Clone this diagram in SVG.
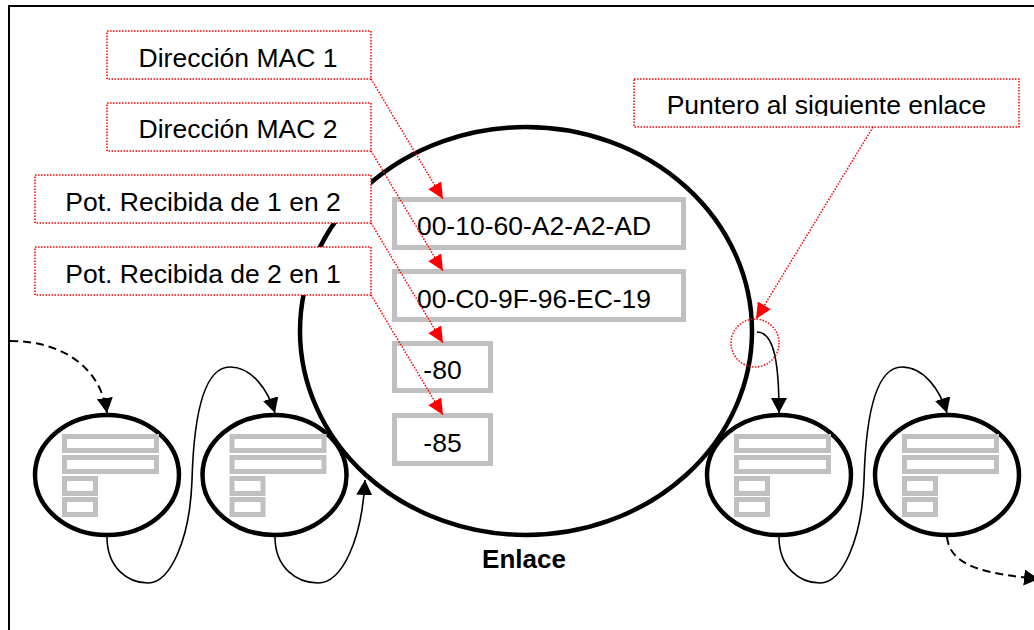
<svg xmlns="http://www.w3.org/2000/svg" xmlns:xlink="http://www.w3.org/1999/xlink" width="1034" height="630" viewBox="0 0 1034 630">
  <style>
    .txt { font-family: "Liberation Sans", Arial, sans-serif; font-size: 26.5px; fill: #000; }
    .bold { font-weight: bold; font-size: 26px; }
    .frame { fill: none; stroke: #000; stroke-width: 2; }
    .node { fill: none; stroke: #000; stroke-width: 4.5; }
    .field { fill: #fff; stroke: #c0c0c0; stroke-width: 5; }
    .label { fill: #fff; stroke: #ff0000; stroke-width: 1.5; stroke-dasharray: 1.5 1.5; }
    .pointer { fill: none; stroke: #ff0000; stroke-width: 1.5; stroke-dasharray: 1.5 1.5; }
    .link { fill: none; stroke: #000; stroke-width: 1.6; }
    .dashed { stroke-width: 2; stroke-dasharray: 8 5; }
  </style>
  <defs>
    <marker id="arrowBlack" markerUnits="userSpaceOnUse" markerWidth="16" markerHeight="17" refX="15" refY="8" orient="auto">
      <path d="M0,0 L15,8 L0,16 Z" fill="#000"/>
    </marker>
    <marker id="arrowRed" markerUnits="userSpaceOnUse" markerWidth="17" markerHeight="16" refX="16" refY="7.5" orient="auto">
      <path d="M0,0 L16,7.5 L0,15 Z" fill="#ff0000"/>
    </marker>
    <!-- field bars inside a small link record, relative to its centre -->
    <g id="fields">
      <rect class="field" x="-42.5" y="-38.5" width="92" height="14"/>
      <rect class="field" x="-42.5" y="-17.5" width="92" height="14"/>
      <rect class="field" x="-42.5" y="3.5" width="31" height="15"/>
      <rect class="field" x="-42.5" y="24.5" width="31" height="15"/>
    </g>
    <clipPath id="clipPuntero">
      <rect x="634" y="79" width="385" height="37"/>
    </clipPath>
  </defs>

  <rect class="frame" x="9" y="6" width="1040" height="640"/>

  <!-- expanded link record -->
  <g id="enlace">
    <ellipse class="node" cx="526" cy="331" rx="226" ry="204"/>
    <rect class="field" x="394.5" y="199.5" width="289" height="48"/>
    <text class="txt" x="534" y="235" text-anchor="middle">00-10-60-A2-A2-AD</text>
    <rect class="field" x="394.5" y="271.5" width="289" height="48"/>
    <text class="txt" x="534" y="308" text-anchor="middle">00-C0-9F-96-EC-19</text>
    <rect class="field" x="394.5" y="343.5" width="96" height="47"/>
    <text class="txt" x="442.5" y="379" text-anchor="middle">-80</text>
    <rect class="field" x="394.5" y="415.5" width="96" height="48"/>
    <text class="txt" x="442.5" y="452" text-anchor="middle">-85</text>
    <text class="txt bold" x="524" y="568" text-anchor="middle">Enlace</text>
  </g>

  <!-- field labels -->
  <g id="label-mac1">
    <rect class="label" x="107" y="31" width="264" height="48"/>
    <text class="txt" x="238" y="67" text-anchor="middle">Dirección MAC 1</text>
  </g>
  <g id="label-mac2">
    <rect class="label" x="107" y="103" width="264" height="48"/>
    <text class="txt" x="238" y="138" text-anchor="middle">Dirección MAC 2</text>
  </g>
  <g id="label-pot12">
    <rect class="label" x="35" y="175" width="336" height="48"/>
    <text class="txt" x="203" y="211" text-anchor="middle">Pot. Recibida de 1 en 2</text>
  </g>
  <g id="label-pot21">
    <rect class="label" x="35" y="247" width="336" height="48"/>
    <text class="txt" x="203" y="283" text-anchor="middle">Pot. Recibida de 2 en 1</text>
  </g>
  <g id="label-puntero">
    <rect class="label" x="634" y="79" width="385" height="48"/>
    <text class="txt" x="826.5" y="114" text-anchor="middle" clip-path="url(#clipPuntero)">Puntero al siguiente enlace</text>
  </g>

  <!-- neighbouring link records -->
  <g id="link-1">
    <ellipse class="node" cx="107" cy="475" rx="72" ry="60"/>
    <use xlink:href="#fields" href="#fields" x="107" y="475"/>
  </g>
  <g id="link-2">
    <ellipse class="node" cx="274.5" cy="475" rx="72" ry="60"/>
    <use xlink:href="#fields" href="#fields" x="274.5" y="475"/>
  </g>
  <g id="link-3">
    <ellipse class="node" cx="779" cy="475" rx="72" ry="60"/>
    <use xlink:href="#fields" href="#fields" x="779" y="475"/>
  </g>
  <g id="link-4">
    <ellipse class="node" cx="947" cy="475" rx="72" ry="60"/>
    <use xlink:href="#fields" href="#fields" x="947" y="475"/>
  </g>

  <g id="connectors">
    <path class="link dashed" d="M10,341 C60,341 100,365 107,413" marker-end="url(#arrowBlack)"/>
    <path class="link" d="M107,537 C107,568 128,583 148,583 C170,583 190,540 192,480 C194,410 205,367 230,367 C252,367 268,390 275,413" marker-end="url(#arrowBlack)"/>
    <path class="link" d="M275,537 C275,568 297,583 318,583 C342,583 362,540 365,480" marker-end="url(#arrowBlack)"/>
    <path class="link" d="M757,332 C774,332 779,362 779,413" marker-end="url(#arrowBlack)"/>
    <path class="link" d="M779,537 C779,568 800,583 820,583 C842,583 862,540 864,480 C866,410 877,367 902,367 C924,367 940,390 947,413" marker-end="url(#arrowBlack)"/>
    <path class="link dashed" d="M947,537 C950,568 990,574 1039,579" marker-end="url(#arrowBlack)"/>

    <line class="pointer" x1="371" y1="79" x2="443" y2="199" marker-end="url(#arrowRed)"/>
    <line class="pointer" x1="371" y1="151" x2="443" y2="271" marker-end="url(#arrowRed)"/>
    <line class="pointer" x1="371" y1="223" x2="443" y2="343" marker-end="url(#arrowRed)"/>
    <line class="pointer" x1="371" y1="295" x2="443" y2="415" marker-end="url(#arrowRed)"/>
    <line class="pointer" x1="873" y1="127" x2="756" y2="319" marker-end="url(#arrowRed)"/>
    <circle class="pointer" cx="755" cy="343" r="24"/>
  </g>
</svg>
